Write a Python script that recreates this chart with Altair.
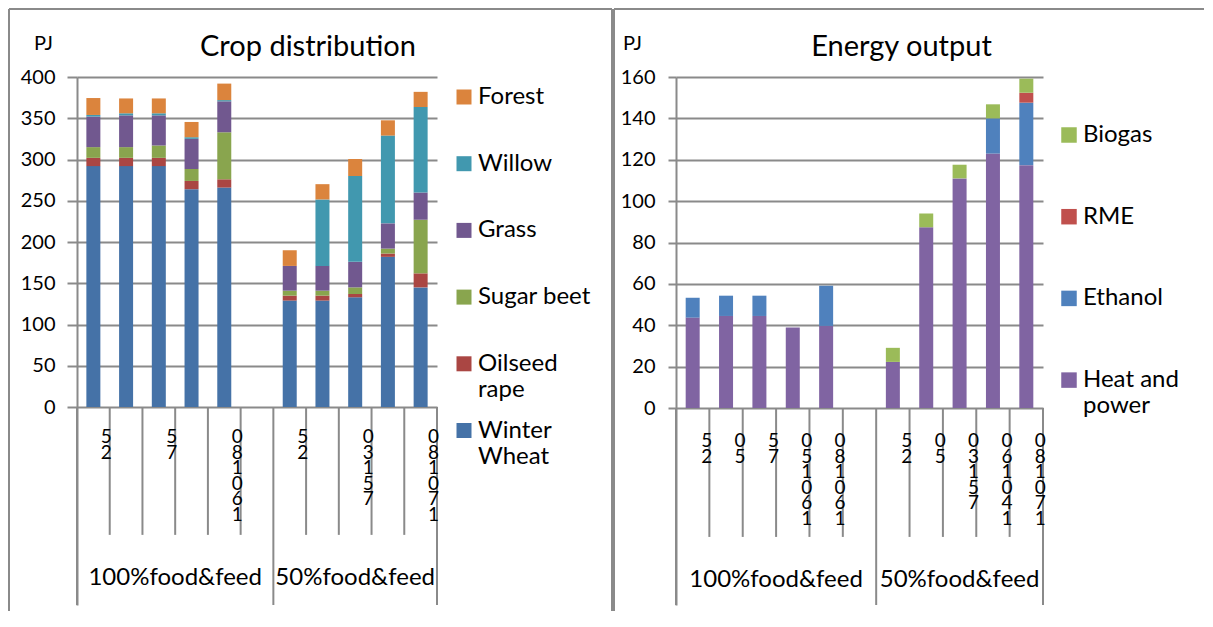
import altair as alt
import pandas as pd

FONT = "Lato"
GRAY = "#8a8a8a"

# ---------------- shared category axis ----------------
# tick labels as printed (rotated text, rendered character by character)
scenario_labels = ["5\n2", "0\n5", "5\n7", "0\n5\n1\n0\n6\n1", "0\n8\n1\n0\n6\n1",
                   "5\n2", "0\n5", "0\n3\n1\n5\n7", "0\n6\n1\n0\n4\n1", "0\n8\n1\n0\n7\n1"]
scenario_groups = ["100%food&feed"] * 5 + ["50%food&feed"] * 5
group_names = ["100%food&feed", "50%food&feed"]
group_sizes = [6, 5]  # the first group carries one empty category

# ---------------- Crop distribution (PJ) ----------------
crop_series = ["Winter Wheat", "Oilseed rape", "Sugar beet", "Grass", "Willow", "Forest"]
crop_colors = ["#4572A7", "#AA4643", "#89A54E", "#71588F", "#4198AF", "#DB843D"]
winter_wheat = [292, 292, 292, 264, 266, 129, 129, 133, 182, 145]
oilseed_rape = [10, 10, 10, 10, 10, 6, 6, 4, 4, 17]
sugar_beet = [13, 13, 15, 14.5, 57, 6, 6, 8, 6, 65]
grass = [37, 38.5, 36.5, 36.5, 37.5, 30, 30, 31, 30.6, 33]
willow = [2, 2.5, 2.5, 2, 1.5, 0, 80.6, 104, 106.4, 103.6]
forest = [20.5, 18, 18, 18.5, 20, 19, 18.5, 20.6, 18.5, 18.4]

# ---------------- Energy output (PJ) ----------------
energy_series = ["Heat and power", "Ethanol", "RME", "Biogas"]
energy_colors = ["#8064A2", "#4F81BD", "#C0504D", "#9BBB59"]
heat_and_power = [43.7, 44.5, 44.5, 38.9, 39.7, 22.3, 87.4, 111, 123, 117.4]
ethanol = [9.6, 9.8, 9.8, 0, 19.4, 0, 0, 0, 17, 30.2]
rme = [0, 0, 0, 0, 0, 0, 0, 0, 0, 4.8]
biogas = [0, 0, 0, 0, 0, 6.8, 6.6, 6.6, 6.8, 6.8]

legend_two_lines = {"Oilseed rape": ["Oilseed", "rape"],
                    "Winter Wheat": ["Winter", "Wheat"],
                    "Heat and power": ["Heat and", "power"]}

# slot positions
group_start = {}
s = 0
for g, n in zip(group_names, group_sizes):
    group_start[g] = s
    s += n
total_slots = s
positions = []
within = []
counter = {g: 0 for g in group_names}
for g in scenario_groups:
    positions.append(group_start[g] + counter[g] + 0.5)
    within.append(counter[g])
    counter[g] += 1

label_expr = "[datum.label, '']"
for k, (a, b) in legend_two_lines.items():
    label_expr = f"datum.label == '{k}' ? ['{a}', '{b}'] : " + label_expr


def panel(title, series, values, colors, y_top, y_bottom, y_step, short_tick,
          width, height, label_every, label_y, group_label_y, label_dx,
          tick_size, label_pad, pj_xy, title_dx, title_offset,
          legend_xy, legend_row_pad, symbol_size, frame):
    rows = []
    for k, (name, vals) in enumerate(zip(series, values)):
        for i, v in enumerate(vals):
            if v > 0:
                rows.append({"pos": positions[i], "series": name, "value": v, "stack": k})
    df = pd.DataFrame(rows)

    x_scale = alt.Scale(domain=[0, total_slots], nice=False, zero=False, padding=0)
    y_scale = alt.Scale(domain=[y_bottom, y_top], nice=False, zero=False)
    y_axis = alt.Axis(
        values=list(range(0, y_top + 1, y_step)), grid=True, gridColor=GRAY, gridWidth=2,
        domainColor=GRAY, domainWidth=2, tickColor=GRAY, tickWidth=2, tickSize=tick_size,
        labelPadding=label_pad, labelFont=FONT, labelFontSize=20, labelColor="black",
        title="PJ", titleAngle=0, titleX=pj_xy[0], titleY=pj_xy[1], titleAlign="center",
        titleBaseline="middle", titleFont=FONT, titleFontSize=20, titleFontWeight="normal",
        titleColor="black",
    )

    bars = alt.Chart(df).mark_bar(size=14).encode(
        x=alt.X("pos:Q", scale=x_scale, axis=None),
        y=alt.Y("value:Q", stack="zero", scale=y_scale, axis=y_axis, title="PJ"),
        color=alt.Color(
            "series:N",
            scale=alt.Scale(domain=series[::-1], range=colors[::-1]),
            legend=alt.Legend(
                title=None, orient="none", legendX=legend_xy[0], legendY=legend_xy[1],
                direction="vertical", symbolType="square", symbolSize=symbol_size,
                symbolStrokeWidth=0, labelFont=FONT, labelFontSize=24, labelColor="black",
                labelOffset=2, labelBaseline="middle", rowPadding=legend_row_pad,
                labelExpr=label_expr, labelLimit=300, padding=0,
            ),
        ),
        order=alt.Order("stack:Q", sort="ascending"),
    )

    long_lines = set(group_start.values()) | {total_slots}
    bdf = pd.DataFrame({
        "x": list(range(total_slots + 1)),
        "y0": [0] * (total_slots + 1),
        "y1": [y_bottom if b in long_lines else short_tick for b in range(total_slots + 1)],
    })
    rules = alt.Chart(bdf).mark_rule(color=GRAY, strokeWidth=2).encode(
        x=alt.X("x:Q", scale=x_scale, axis=None),
        y=alt.Y("y0:Q", scale=y_scale, axis=y_axis, title="PJ"),
        y2="y1:Q",
    )

    ldf = pd.DataFrame({
        "x": [p for p, w in zip(positions, within) if w % label_every == 0],
        "label": [l for l, w in zip(scenario_labels, within) if w % label_every == 0],
    })
    cat_text = alt.Chart(ldf).mark_text(
        align="center", baseline="top", lineBreak="\n", lineHeight=15.5,
        font=FONT, fontSize=19, color="black", dx=label_dx,
    ).encode(x=alt.X("x:Q", scale=x_scale, axis=None), y=alt.value(label_y), text="label:N")

    gdf = pd.DataFrame({
        "x": [group_start[g] + n / 2 for g, n in zip(group_names, group_sizes)],
        "label": group_names,
    })
    grp_text = alt.Chart(gdf).mark_text(
        align="center", baseline="middle", font=FONT, fontSize=24, color="black",
    ).encode(x=alt.X("x:Q", scale=x_scale, axis=None), y=alt.value(group_label_y), text="label:N")

    fdf = pd.DataFrame([{"k": 0}])
    frames = []
    for seg in frame:
        enc = {k: alt.value(v) for k, v in seg.items()}
        frames.append(alt.Chart(fdf).mark_rule(color=GRAY, strokeWidth=2).encode(**enc))

    return alt.layer(bars, rules, cat_text, grp_text, *frames).properties(
        width=width, height=height,
        title=alt.TitleParams(
            text=title, font=FONT, fontSize=29, fontWeight="normal", color="black",
            anchor="middle", frame="group", dx=title_dx, offset=title_offset,
        ),
    )


left = panel(
    "Crop distribution", crop_series,
    [winter_wheat, oilseed_rape, sugar_beet, grass, willow, forest], crop_colors,
    y_top=400, y_bottom=-240, y_step=50, short_tick=-155,
    width=360, height=528, label_every=2, label_y=351, group_label_y=501, label_dx=13,
    tick_size=10, label_pad=12, pj_xy=(-34, -34), title_dx=51, title_offset=-54,
    legend_xy=(375, 8), legend_row_pad=16.7, symbol_size=225,
    frame=[{"x": -68, "y": -68, "y2": 534}, {"x": -68, "x2": 535, "y": -68},
           {"x": 535, "y": -68, "y2": 534}],
)

right = panel(
    "Energy output", energy_series, [heat_and_power, ethanol, rme, biogas], energy_colors,
    y_top=160, y_bottom=-95.2, y_step=20, short_tick=-62.3,
    width=367, height=528, label_every=1, label_y=355, group_label_y=503, label_dx=14,
    tick_size=8, label_pad=13, pj_xy=(-44, -34), title_dx=42, title_offset=-54,
    legend_xy=(381, 46), legend_row_pad=31.7, symbol_size=240,
    frame=[{"x": -62, "y": -68, "y2": 534}, {"x": -62, "x2": 528, "y": -68}],
)

chart = alt.hconcat(left, right, spacing=0).resolve_scale(
    color="independent", x="independent", y="independent"
).resolve_legend(color="independent").properties(
    padding=0, background="white"
).configure_view(stroke=None)

chart.save("out.html", embed_options={"renderer": "svg", "actions": False})
